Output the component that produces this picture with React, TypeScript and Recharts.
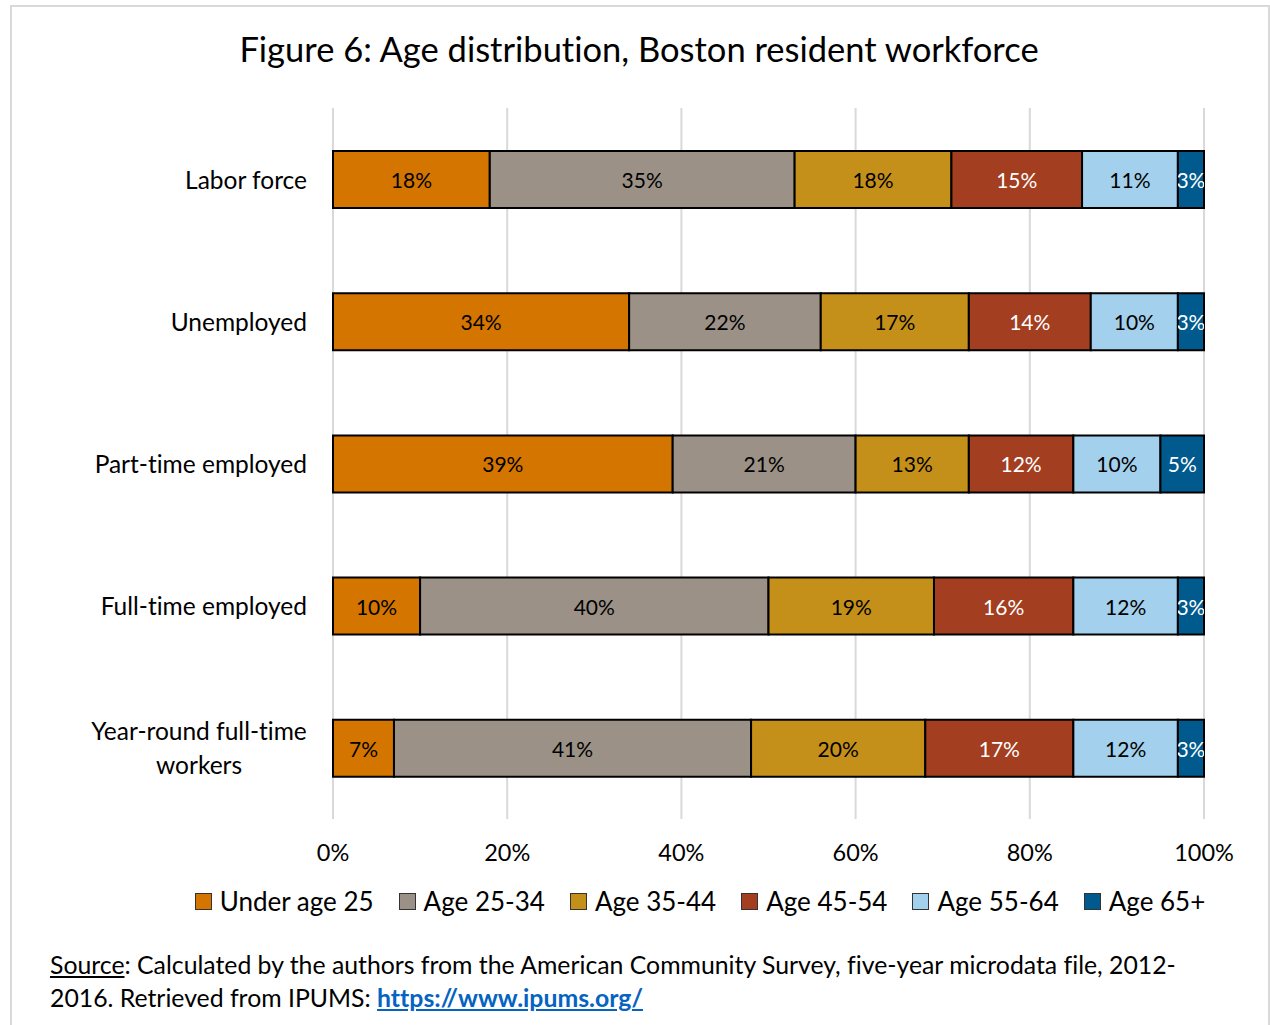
import React from "react";
import { BarChart, Bar, XAxis, YAxis, CartesianGrid, LabelList } from "recharts";

const FONT = "Lato, 'Open Sans', sans-serif";

const categories = [
  "Labor force",
  "Unemployed",
  "Part-time employed",
  "Full-time employed",
  "Year-round full-time workers",
];

const under25 = [18, 34, 39, 10, 7];
const age2534 = [35, 22, 21, 40, 41];
const age3544 = [18, 17, 13, 19, 20];
const age4554 = [15, 14, 12, 16, 17];
const age5564 = [11, 10, 10, 12, 12];
const age65 = [3, 3, 5, 3, 3];

const xTicks = [0, 20, 40, 60, 80, 100];

const SERIES = [
  { key: "u25", name: "Under age 25", values: under25, color: "#D47500", text: "#000" },
  { key: "a25", name: "Age 25-34", values: age2534, color: "#9B9186", text: "#000" },
  { key: "a35", name: "Age 35-44", values: age3544, color: "#C5901A", text: "#000" },
  { key: "a45", name: "Age 45-54", values: age4554, color: "#A33E20", text: "#fff" },
  { key: "a55", name: "Age 55-64", values: age5564, color: "#A3D0EC", text: "#000" },
  { key: "a65", name: "Age 65+", values: age65, color: "#005A8E", text: "#fff" },
];

const data = categories.map((name, i) => {
  const row: any = { name };
  SERIES.forEach((s) => (row[s.key] = s.values[i]));
  return row;
});

const NOLIG = { fontVariantLigatures: "none" } as React.CSSProperties;

let ctx: CanvasRenderingContext2D | null = null;
const measure = (txt: string, size: number) => {
  if (!ctx) ctx = document.createElement("canvas").getContext("2d");
  if (!ctx) return txt.length * size * 0.5;
  ctx.font = `${size}px ${FONT}`;
  return ctx.measureText(txt).width;
};

const wrap = (txt: string, max: number) => {
  const words = txt.split(" ");
  const lines: string[] = [];
  let cur = "";
  words.forEach((w) => {
    const next = cur ? cur + " " + w : w;
    if (next.length > max && cur) {
      lines.push(cur);
      cur = w;
    } else cur = next;
  });
  if (cur) lines.push(cur);
  return lines;
};

const CategoryTick = (props: any) => {
  const { x, y, payload } = props;
  const size = 24.5;
  const lines = wrap(String(payload.value), 20);
  if (lines.length === 1) {
    return (
      <text x={x} y={y} textAnchor="end" dominantBaseline="central" fontSize={size} fill="#000" fontFamily={FONT} style={NOLIG}>
        {lines[0]}
      </text>
    );
  }
  const w = Math.max(...lines.map((l) => measure(l, size)));
  const lh = 34;
  const top = y - ((lines.length - 1) * lh) / 2;
  return (
    <text x={x - w / 2} y={top} textAnchor="middle" fontSize={size} fill="#000" fontFamily={FONT} style={NOLIG}>
      {lines.map((l, i) => (
        <tspan key={i} x={x - w / 2} y={top + i * lh} dominantBaseline="central">
          {l}
        </tspan>
      ))}
    </text>
  );
};

const makeLabel = (key: string, color: string) => (props: any) => {
  const x = Number(props.x);
  const y = Number(props.y);
  const width = Number(props.width);
  const height = Number(props.height);
  const id = `clip-${key}-${props.index}`;
  return (
    <g>
      <defs>
        <clipPath id={id}>
          <rect x={x} y={y} width={width} height={height} />
        </clipPath>
      </defs>
      <text
        x={x + width / 2}
        y={y + height / 2}
        textAnchor="middle"
        dominantBaseline="central"
        fontSize={21}
        fill={color}
        fontFamily={FONT}
        clipPath={`url(#${id})`}
      >
        {props.value}%
      </text>
    </g>
  );
};

export default function App() {
  return (
    <div style={{ position: "absolute", left: 0, top: 0, width: 1270, height: 1025, background: "#fff", fontFamily: FONT, overflow: "hidden", ...NOLIG }}>
      <div style={{ position: "absolute", left: 10, top: 5, width: 1256, height: 1040, border: "2px solid #d9d9d9" }} />
      <div style={{ position: "absolute", left: 10, top: 29, width: 1258, textAlign: "center", fontSize: 34.5, lineHeight: "40px", color: "#000" }}>
        Figure 6: Age distribution, Boston resident workforce
      </div>
      <div style={{ position: "absolute", left: 0, top: 0 }}>
        <BarChart
          width={1270}
          height={880}
          data={data}
          layout="vertical"
          margin={{ top: 108, right: 66, bottom: 21, left: 0 }}
          barSize={57}
        >
          <CartesianGrid horizontal={false} stroke="#d9d9d9" strokeWidth={2} />
          <XAxis
            type="number"
            domain={[0, 100]}
            ticks={xTicks}
            tickFormatter={(v) => `${v}%`}
            axisLine={false}
            tickLine={false}
            tickSize={0}
            tickMargin={25}
            height={40}
            tick={{ fontSize: 23.5, fill: "#000", fontFamily: FONT }}
          />
          <YAxis
            type="category"
            dataKey="name"
            width={333}
            axisLine={false}
            tickLine={false}
            tickSize={0}
            tickMargin={26}
            tick={<CategoryTick />}
            interval={0}
          />
          {SERIES.map((s) => (
            <Bar key={s.key} dataKey={s.key} name={s.name} stackId="a" fill={s.color} stroke="#000" strokeWidth={2} isAnimationActive={false}>
              <LabelList dataKey={s.key} content={makeLabel(s.key, s.text)} />
            </Bar>
          ))}
        </BarChart>
      </div>
      <div style={{ position: "absolute", left: 130, top: 883, width: 1140, display: "flex", justifyContent: "center", fontSize: 26, lineHeight: "36px", color: "#000" }}>
        {SERIES.map((s, i) => (
          <div key={s.key} style={{ display: "flex", alignItems: "center", marginRight: i === SERIES.length - 1 ? 0 : 25 }}>
            <span style={{ display: "inline-block", width: 15, height: 15, background: s.color, border: "1.5px solid #333", marginRight: 8 }} />
            <span>{s.name}</span>
          </div>
        ))}
      </div>
      <div style={{ position: "absolute", left: 50, top: 948, fontSize: 24.8, lineHeight: "33px", color: "#000", whiteSpace: "nowrap" }}>
        <span style={{ textDecoration: "underline" }}>Source</span>: Calculated by the authors from the American Community Survey, five-year microdata file, 2012-
        <br />
        2016. Retrieved from IPUMS:{" "}
        <span style={{ color: "#0563C1", fontWeight: 700, textDecoration: "underline" }}>https://www.ipums.org/</span>
      </div>
    </div>
  );
}
